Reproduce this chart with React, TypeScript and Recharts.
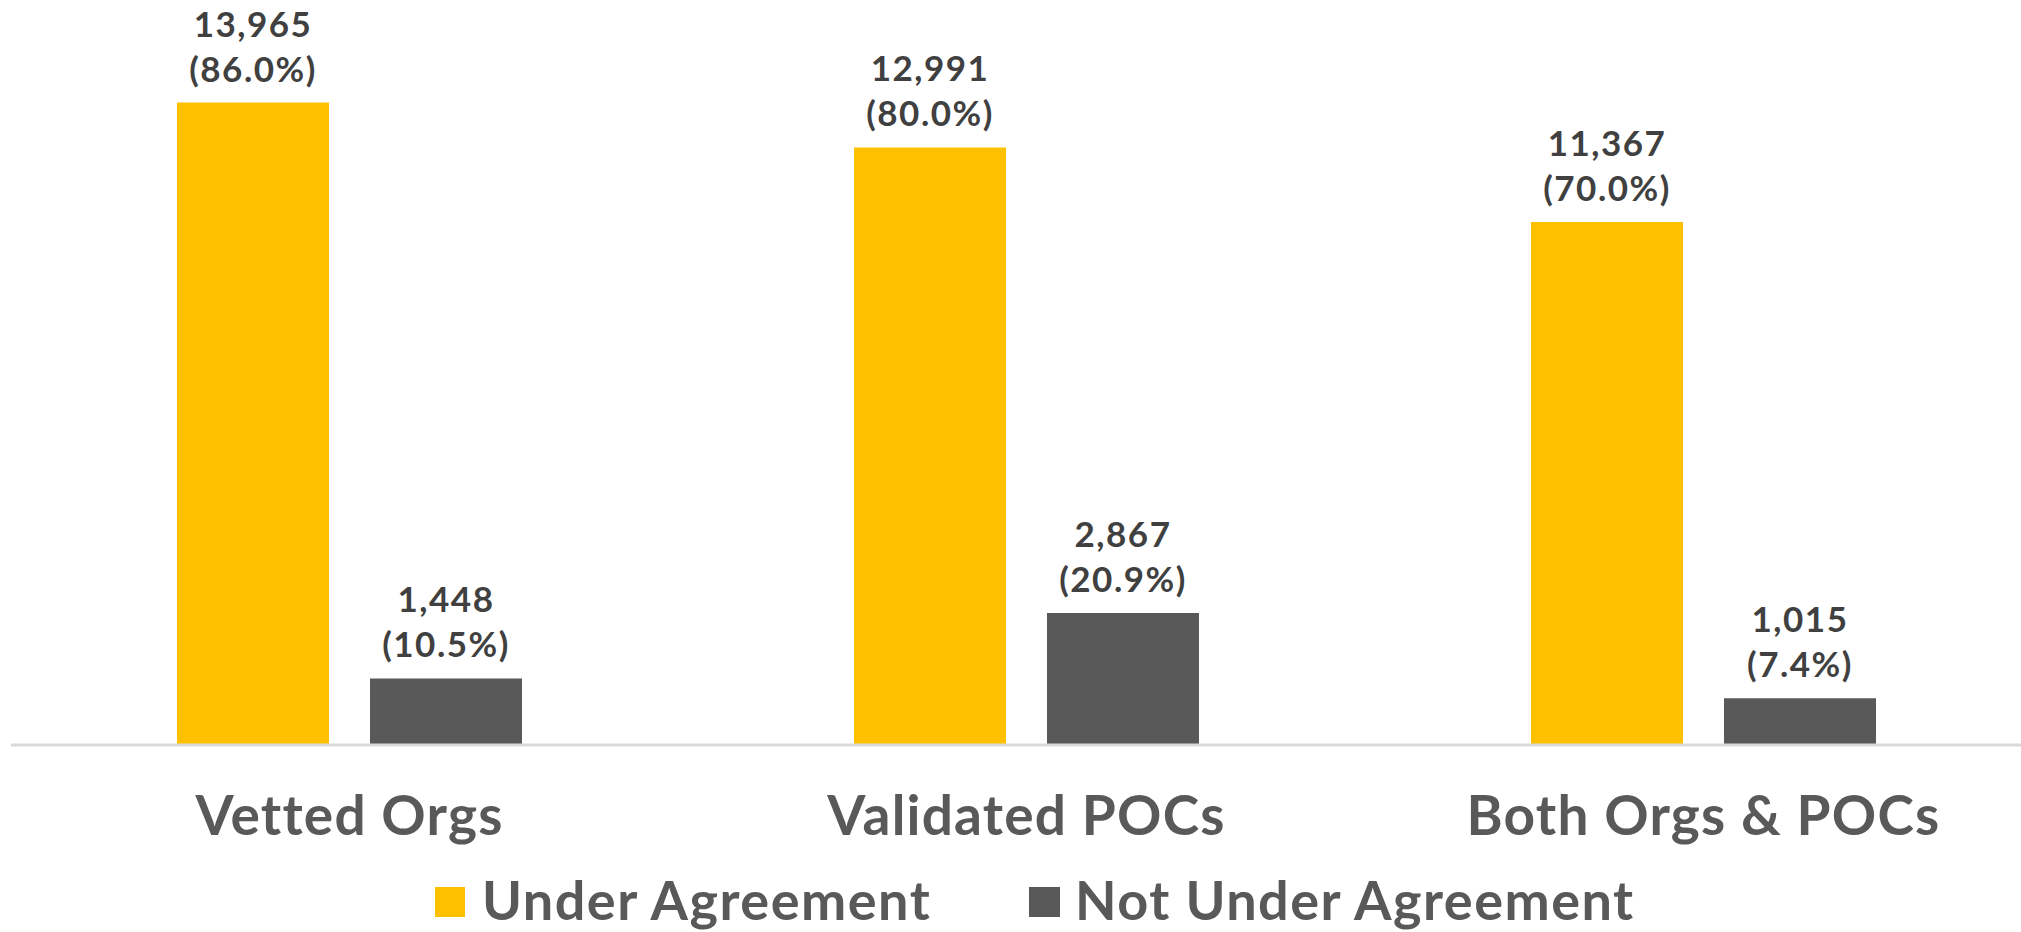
import { Bar, BarChart, LabelList, Legend, XAxis, YAxis } from "recharts";

const categories = ["Vetted Orgs", "Validated POCs", "Both Orgs & POCs"];
const underAgreement = [13965, 12991, 11367];
const underAgreementPct = [86.0, 80.0, 70.0];
const notUnderAgreement = [1448, 2867, 1015];
const notUnderAgreementPct = [10.5, 20.9, 7.4];

const YELLOW = "#FFC000";
const GRAY = "#595959";
const FONT = "Lato, 'Open Sans', sans-serif";

const data = categories.map((name, i) => ({
  name,
  under: underAgreement[i],
  notUnder: notUnderAgreement[i],
}));

// two-line label: count, then share in brackets
function makeLabel(values: number[], pcts: number[]) {
  return (props: any) => {
    const { x, y, width, value } = props;
    const cx = Number(x) + Number(width) / 2;
    const top = Number(y);
    const pct = pcts[values.indexOf(Number(value))];
    return (
      <text
        textAnchor="middle"
        fill="#404040"
        fontFamily={FONT}
        fontWeight={700}
        fontSize={35}
        letterSpacing={1.5}
      >
        <tspan x={cx} y={top - 66}>
          {Number(value).toLocaleString("en-US")}
        </tspan>
        <tspan x={cx} y={top - 21}>
          ({pct.toFixed(1)}%)
        </tspan>
      </text>
    );
  };
}

const CategoryTick = (props: any) => {
  const { x, y, payload } = props;
  return (
    <text
      x={x}
      y={Number(y) + 90}
      textAnchor="middle"
      fill={GRAY}
      fontFamily={FONT}
      fontWeight={700}
      fontSize={55}
      letterSpacing={1.2}
    >
      {payload.value}
    </text>
  );
};

const LegendContent = () => (
  <div
    style={{
      height: 60,
      display: "flex",
      alignItems: "center",
      paddingLeft: 424,
      fontFamily: FONT,
      fontWeight: 700,
      fontSize: 54,
      lineHeight: "60px",
      color: GRAY,
      letterSpacing: 1.5,
    }}
  >
    <div style={{ width: 594, display: "flex", alignItems: "center" }}>
      <span style={{ width: 30, height: 30, background: YELLOW, marginRight: 17, marginTop: 4 }} />
      <span>Under Agreement</span>
    </div>
    <div style={{ display: "flex", alignItems: "center" }}>
      <span style={{ width: 31, height: 30, background: GRAY, marginRight: 15, marginTop: 4 }} />
      <span>Not Under Agreement</span>
    </div>
  </div>
);

export default function App() {
  return (
    <div
      style={{
        position: "absolute",
        left: 0,
        top: 0,
        width: 2021,
        height: 932,
        overflow: "hidden",
        background: "#fff",
      }}
    >
      <BarChart
        width={2060}
        height={932}
        data={data}
        margin={{ top: 9, right: 18, bottom: 2, left: 11 }}
        barSize={152}
        barGap={41}
      >
        <XAxis
          dataKey="name"
          height={125}
          axisLine={{ stroke: "#d9d9d9", strokeWidth: 3 }}
          tickLine={false}
          tickSize={0}
          tickMargin={0}
          tick={<CategoryTick />}
          interval={0}
        />
        <YAxis hide domain={[0, 16000]} />
        <Legend verticalAlign="bottom" content={() => <LegendContent />} />
        <Bar dataKey="under" name="Under Agreement" fill={YELLOW} isAnimationActive={false}>
          <LabelList dataKey="under" content={makeLabel(underAgreement, underAgreementPct)} />
        </Bar>
        <Bar dataKey="notUnder" name="Not Under Agreement" fill={GRAY} isAnimationActive={false}>
          <LabelList dataKey="notUnder" content={makeLabel(notUnderAgreement, notUnderAgreementPct)} />
        </Bar>
      </BarChart>
    </div>
  );
}
